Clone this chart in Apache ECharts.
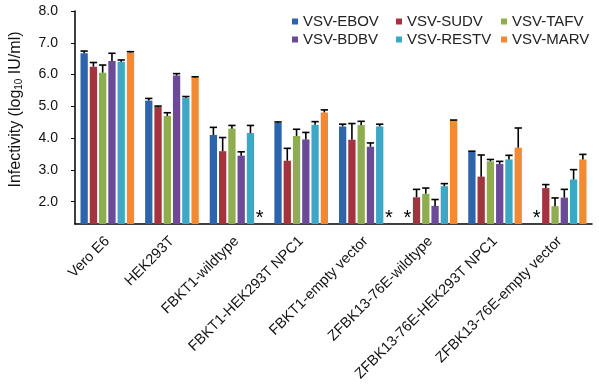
<!DOCTYPE html>
<html>
<head>
<meta charset="utf-8">
<script src="https://cdn.jsdelivr.net/npm/echarts@6/dist/echarts.min.js"></script>
<style>
  html, body { margin: 0; padding: 0; background: #ffffff; }
  #chart { width: 599px; height: 387px; }
</style>
</head>
<body>
<div id="chart"></div>
<script>
// Cell lines on the x axis
const categories = [
  'Vero E6', 'HEK293T', 'FBKT1-wildtype', 'FBKT1-HEK293T NPC1', 'FBKT1-empty vector',
  'ZFBK13-76E-wildtype', 'ZFBK13-76E-HEK293T NPC1', 'ZFBK13-76E-empty vector'
];

// Mean infectivity (log10 IU/ml); null = below detection (drawn as *)
const ebov   = [6.67, 5.18, 4.10, 4.48, 4.37, null, 3.57, null];
const sudv   = [6.25, 4.98, 3.59, 3.29, 3.95, 2.14, 2.79, 2.43];
const tafv   = [6.06, 4.70, 4.30, 4.07, 4.41, 2.25, 3.27, 1.86];
const bdbv   = [6.43, 5.97, 3.45, 3.96, 3.73, 1.87, 3.19, 2.13];
const restv  = [6.40, 5.27, 4.16, 4.42, 4.37, 2.49, 3.33, 2.70];
const marv   = [6.69, 5.91, null, 4.81, null, 4.56, 3.70, 3.33];

// Upper error bars
const ebovErr  = [0.07, 0.07, 0.24, 0.03, 0.07, 0, 0.02, 0];
const sudvErr  = [0.13, 0.03, 0.43, 0.39, 0.51, 0.25, 0.68, 0.11];
const tafvErr  = [0.24, 0.10, 0.10, 0.21, 0.12, 0.18, 0.06, 0.26];
const bdbvErr  = [0.24, 0.06, 0.12, 0.22, 0.12, 0.20, 0.08, 0.26];
const restvErr = [0.06, 0.04, 0.24, 0.10, 0.07, 0.08, 0.13, 0.31];
const marvErr  = [0.03, 0.02, 0, 0.08, 0, 0.01, 0.62, 0.16];

const yTicks = [2, 3, 4, 5, 6, 7, 8];

const seriesDefs = [
  { name: 'VSV-EBOV',  values: ebov,  err: ebovErr,  color: '#2e63ae' },
  { name: 'VSV-SUDV',  values: sudv,  err: sudvErr,  color: '#a3343f' },
  { name: 'VSV-TAFV',  values: tafv,  err: tafvErr,  color: '#8dad4e' },
  { name: 'VSV-BDBV',  values: bdbv,  err: bdbvErr,  color: '#6b4a97' },
  { name: 'VSV-RESTV', values: restv, err: restvErr, color: '#3fa7c6' },
  { name: 'VSV-MARV',  values: marv,  err: marvErr,  color: '#f28a35' }
];

const CAT_GAP = 0.17;
const BAR_GAP = 0.27;
const N = seriesDefs.length;

// same offset rule ECharts uses for grouped bars
function barOffset(bandWidth, idx) {
  const usable = bandWidth * (1 - CAT_GAP);
  const w = usable / (N + (N - 1) * BAR_GAP);
  return { center: -usable / 2 + idx * w * (1 + BAR_GAP) + w / 2, width: w };
}

const series = [];
seriesDefs.forEach((s, idx) => {
  series.push({
    name: s.name,
    type: 'bar',
    data: s.values,
    barGap: (BAR_GAP * 100) + '%',
    barCategoryGap: (CAT_GAP * 100) + '%',
    itemStyle: { color: s.color },
    z: 2
  });
});

seriesDefs.forEach((s, idx) => {
  const errData = s.values
    .map((v, i) => [i, v, s.err[i]])
    .filter(d => d[1] !== null && d[2] > 0);
  series.push({
    name: 'err-' + s.name,
    type: 'custom',
    data: errData,
    z: 3,
    renderItem: (params, api) => {
      const band = api.size([1, 0])[0];
      const o = barOffset(band, idx);
      const base = api.coord([api.value(0), api.value(1)]);
      const top = api.coord([api.value(0), api.value(1) + api.value(2)]);
      const x = base[0] + o.center;
      const half = o.width / 2;
      const style = { stroke: '#000', lineWidth: 1.6 };
      return {
        type: 'group',
        children: [
          { type: 'line', shape: { x1: x, y1: base[1], x2: x, y2: top[1] }, style },
          { type: 'line', shape: { x1: x - half, y1: top[1], x2: x + half, y2: top[1] }, style }
        ]
      };
    }
  });
});

// asterisks where a value is missing
const starData = [];
seriesDefs.forEach((s, idx) => {
  s.values.forEach((v, i) => { if (v === null) starData.push([i, 1.55, idx]); });
});
series.push({
  name: 'stars',
  type: 'custom',
  data: starData,
  z: 4,
  renderItem: (params, api) => {
    const band = api.size([1, 0])[0];
    const o = barOffset(band, api.value(2));
    const p = api.coord([api.value(0), api.value(1)]);
    return {
      type: 'text',
      x: p[0] + o.center,
      y: p[1] + 2,
      style: {
        text: '*', fill: '#000', fontSize: 20, fontFamily: 'Liberation Sans, Arial',
        align: 'center', verticalAlign: 'middle'
      }
    };
  }
});

// three legend columns, two rows each
const legendCols = [287, 391, 496];
const legends = legendCols.map((left, c) => ({
  data: [seriesDefs[c].name, seriesDefs[c + 3].name],
  orient: 'vertical',
  left: left,
  top: 9,
  itemWidth: 6,
  itemHeight: 6,
  itemGap: 3,
  icon: 'rect',
  textStyle: { fontSize: 15, color: '#222' }
}));

const chart = echarts.init(document.getElementById('chart'), null, { renderer: 'canvas' });
chart.setOption({
  animation: false,
  backgroundColor: '#ffffff',
  textStyle: { fontFamily: 'Liberation Sans, Arial, sans-serif' },
  legend: legends,
  grid: { left: 63, right: 7, top: 11, bottom: 163, containLabel: false },
  xAxis: {
    type: 'category',
    data: categories,
    axisLine: { lineStyle: { color: '#000', width: 1.5 } },
    axisTick: { lineStyle: { color: '#000' }, length: 4 },
    axisLabel: { rotate: 45, interval: 0, fontSize: 14.5, color: '#111', margin: 15 }
  },
  yAxis: {
    type: 'value',
    min: 1.3,
    max: 8,
    splitLine: { show: false },
    axisLine: { show: true, lineStyle: { color: '#000', width: 1.5 } },
    axisTick: { show: true, customValues: yTicks, length: 4, lineStyle: { color: '#000' } },
    axisLabel: {
      customValues: yTicks, fontSize: 14, color: '#111', margin: 17,
      formatter: v => v.toFixed(1)
    },
    name: 'Infectivity (log{sub|10} IU/ml)',
    nameLocation: 'middle',
    nameGap: 51,
    nameTextStyle: {
      fontSize: 16, color: '#111',
      padding: [0, 0, 0, 16],
      rich: { sub: { fontSize: 10, verticalAlign: 'bottom', padding: [6, 0, 0, 0] } }
    }
  },
  series
});
</script>
</body>
</html>
